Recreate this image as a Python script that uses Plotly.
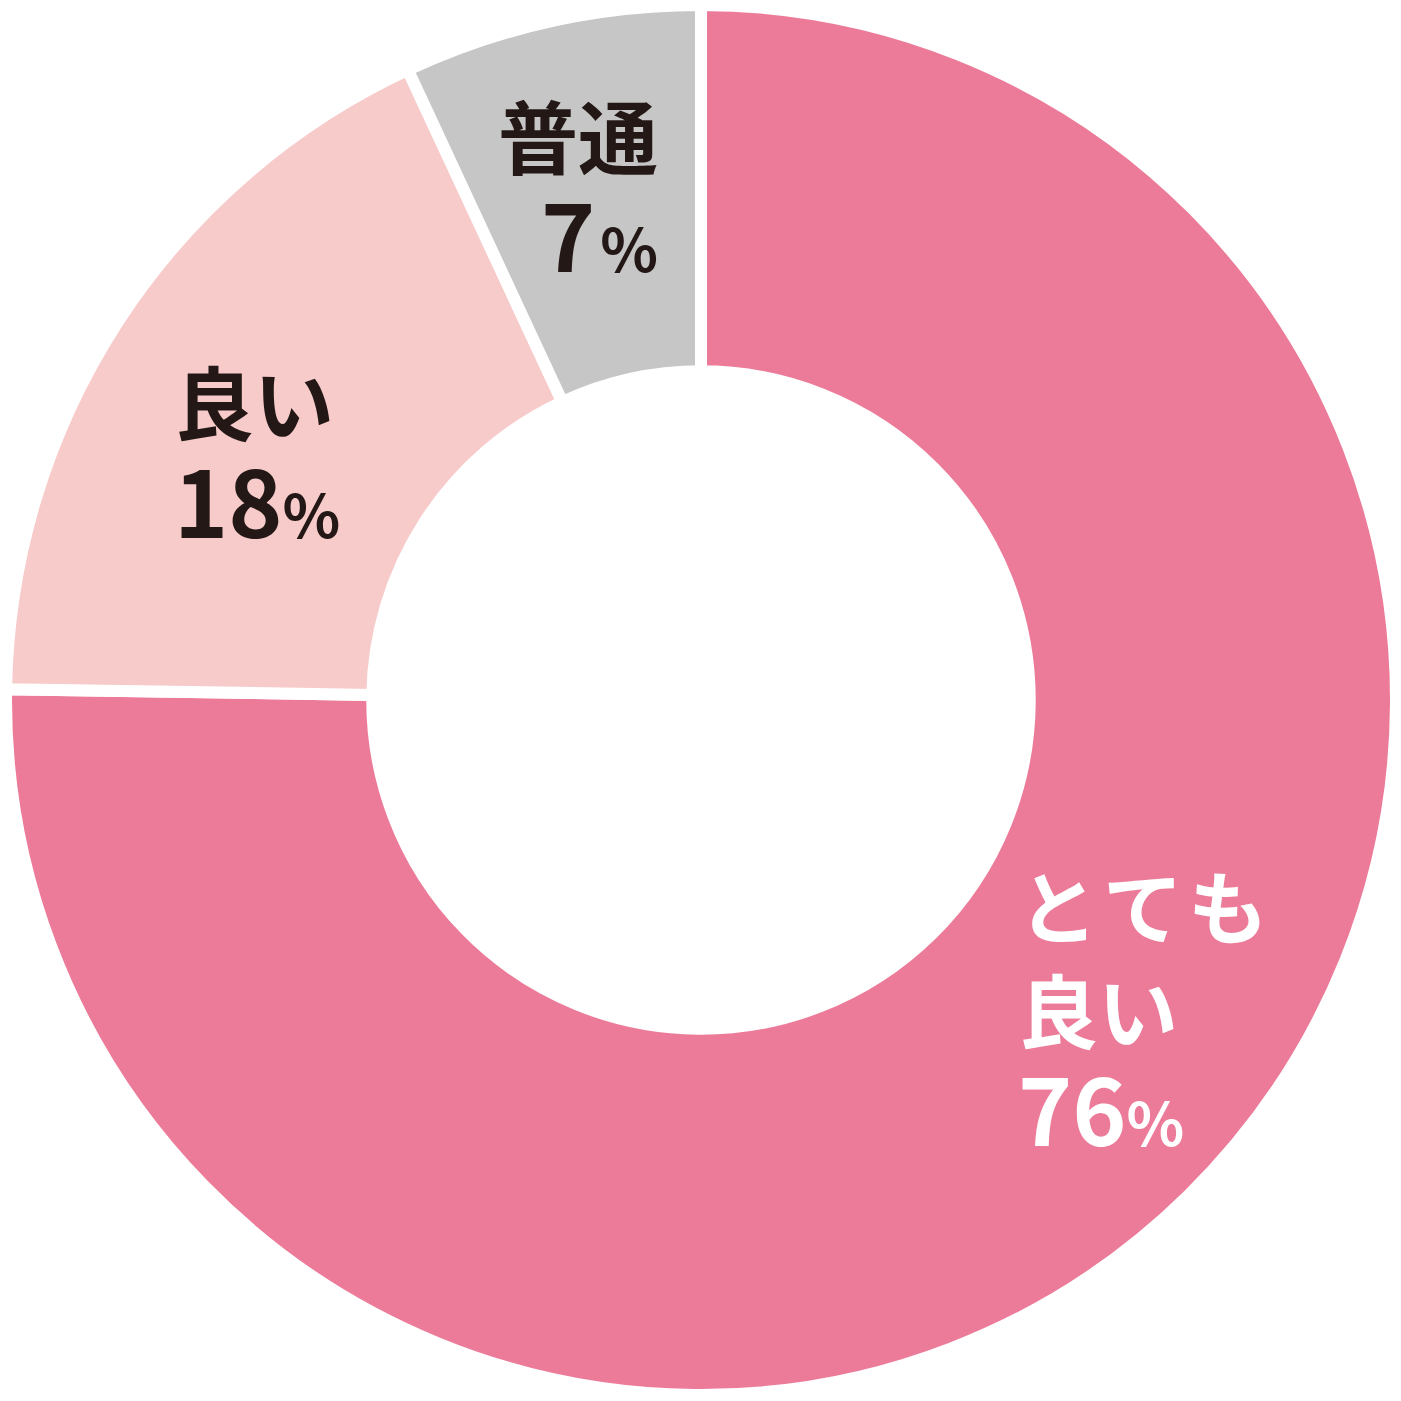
import plotly.graph_objects as go

labels = ["とても良い", "良い", "普通"]
values = [76, 18, 7]
pct_text = ["76", "18", "7"]
colors = ["#EC7B99", "#F8CBCB", "#C6C6C6"]

W = 1401
FONT = "Noto Sans CJK JP"
DARK = "#231815"

fig = go.Figure(go.Pie(
    labels=labels,
    values=values,
    sort=False,
    direction="clockwise",
    rotation=0,
    hole=0.473,
    textinfo="none",
    hoverinfo="label+percent",
    marker=dict(colors=colors, line=dict(color="white", width=12)),
    domain=dict(x=[6 / W, 1396 / W], y=[6 / W, 1396 / W]),
    showlegend=False,
))


def pct(num, gap=""):
    return (f"<span style='font-size:92px'>{num}</span>{gap}"
            f"<span style='font-size:60px'>%</span>")


def ann(x, y, text, color, xanchor):
    fig.add_annotation(
        x=x / W, y=1 - y / W, xref="paper", yref="paper",
        text=text, showarrow=False, xanchor=xanchor, yanchor="middle",
        align=xanchor,
        font=dict(family=FONT, size=80, color=color, weight="bold"),
    )


# 普通
ann(660, 186, "普通<br>" + pct(pct_text[2], "\u200a"), DARK, "right")
# 良い
ann(172, 452, "良い<br>" + pct(pct_text[1]), DARK, "left")
# とても良い
ann(1016, 1008, "と\u200aて\u200aも<br>良い<br>" + pct(pct_text[0]), "white", "left")

fig.update_layout(
    width=W, height=W,
    margin=dict(l=0, r=0, t=0, b=0),
    paper_bgcolor="white", plot_bgcolor="white",
)

fig.write_html("out.html", config={"displayModeBar": False},
               post_script="document.body.style.margin='0';")
